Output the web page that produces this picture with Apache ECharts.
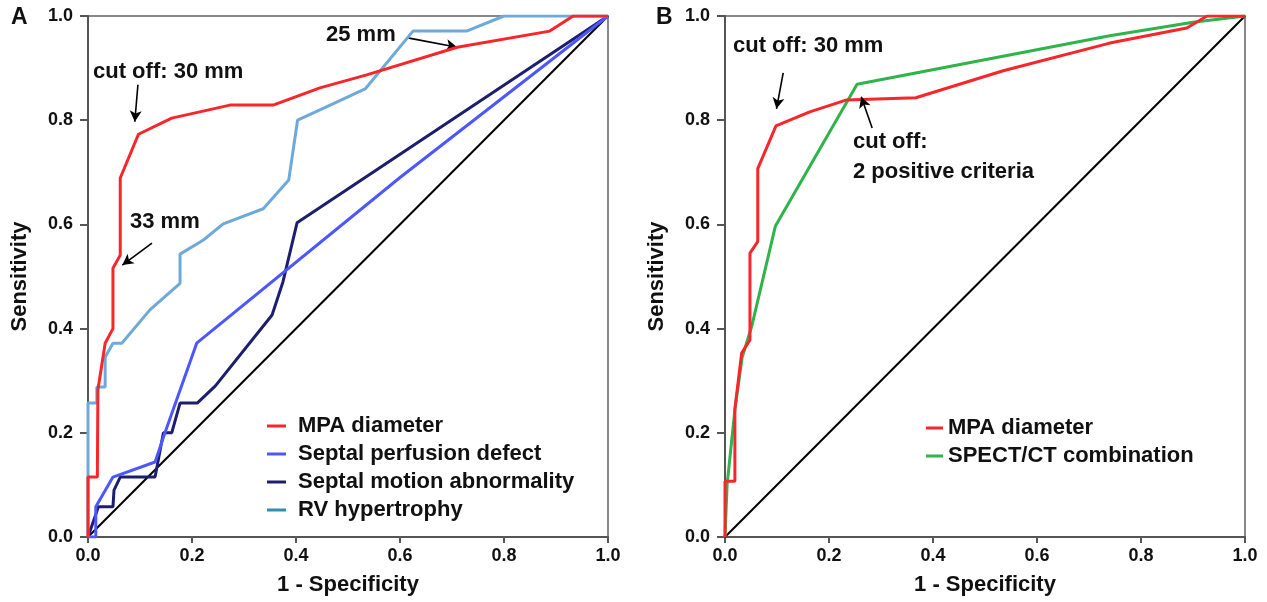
<!DOCTYPE html>
<html>
<head>
<meta charset="utf-8">
<script src="https://cdn.jsdelivr.net/npm/echarts@6/dist/echarts.min.js"></script>
<style>
html,body{margin:0;padding:0;background:#fff;}
#chart{width:1267px;height:602px;}
</style>
</head>
<body>
<div id="chart"></div>
<script>
// ---- Data (x = 1 - Specificity, y = Sensitivity) ----
const tickValues = [0, 0.2, 0.4, 0.6, 0.8, 1.0];
const diagonal = [[0, 0], [1, 1]];

// Panel A
const mpaA = [[0,0],[0,0.115],[0.018,0.115],[0.019,0.282],[0.033,0.372],[0.048,0.40],[0.048,0.516],[0.062,0.541],[0.062,0.689],[0.097,0.773],[0.161,0.804],[0.273,0.829],[0.356,0.829],[0.446,0.862],[0.536,0.887],[0.71,0.94],[0.888,0.971],[0.933,1.0],[1,1]];
const perfusionA = [[0,0],[0.015,0],[0.015,0.058],[0.048,0.115],[0.129,0.144],[0.148,0.2],[0.209,0.372],[0.6,0.69],[1,1]];
const motionA = [[0,0],[0.02,0.058],[0.048,0.058],[0.05,0.09],[0.062,0.115],[0.129,0.115],[0.145,0.2],[0.161,0.2],[0.177,0.257],[0.21,0.257],[0.245,0.29],[0.354,0.426],[0.375,0.49],[0.402,0.603],[1,1]];
const rvA = [[0,0],[0,0.257],[0.017,0.257],[0.017,0.288],[0.033,0.288],[0.033,0.345],[0.048,0.372],[0.065,0.372],[0.119,0.436],[0.177,0.487],[0.177,0.543],[0.222,0.57],[0.26,0.601],[0.337,0.63],[0.386,0.685],[0.403,0.80],[0.446,0.82],[0.533,0.86],[0.625,0.971],[0.728,0.971],[0.80,1.0],[1,1]];

// Panel B
const mpaB = [[0,0],[0,0.107],[0.019,0.107],[0.019,0.246],[0.032,0.353],[0.048,0.378],[0.048,0.545],[0.063,0.567],[0.063,0.707],[0.098,0.789],[0.163,0.816],[0.234,0.839],[0.367,0.843],[0.535,0.895],[0.74,0.948],[0.888,0.977],[0.927,1.0],[1,1]];
const spectB = [[0,0],[0.004,0.10],[0.019,0.244],[0.033,0.345],[0.051,0.403],[0.097,0.597],[0.254,0.869],[0.74,0.962],[0.9,0.988],[1,1]];

// Annotation arrows [from, to] in data coordinates
const arrowsA = [[[0.096,0.868],[0.090,0.797]], [[0.123,0.564],[0.066,0.522]], [[0.615,0.958],[0.71,0.94]]];
const arrowsB = [[[0.112,0.891],[0.099,0.822]], [[0.283,0.785],[0.262,0.845]]];

// Labels
const legendA = ['MPA diameter','Septal perfusion defect','Septal motion abnormality','RV hypertrophy'];
const legendB = ['MPA diameter','SPECT/CT combination'];

// ---- Styling ----
const FONT = '"Liberation Sans", Arial, Helvetica, sans-serif';
const RED = '#f8262b', BLUE = '#4d57ff', NAVY = '#1d1f6e', LIGHTBLUE = '#6ea9da', TEAL = '#2f8fb3', GREEN = '#2fb34a';

function xAxisCfg(gi){
  return {
    gridIndex: gi, type: 'value', min: 0, max: 1, interval: 0.2,
    name: '1 - Specificity', nameLocation: 'middle', nameGap: 37,
    nameTextStyle: {fontFamily: FONT, fontWeight: 'bold', fontSize: 22, color: '#111', verticalAlign: 'top'},
    axisLine: {show: true, lineStyle: {color: '#555', width: 2}},
    axisTick: {show: true, length: 6, lineStyle: {color: '#555', width: 2}},
    axisLabel: {margin: 10, fontFamily: FONT, fontWeight: 'bold', fontSize: 18, color: '#111', formatter: v => v.toFixed(1)},
    splitLine: {show: false}
  };
}
function yAxisCfg(gi){
  return {
    gridIndex: gi, type: 'value', min: 0, max: 1, interval: 0.2,
    name: 'Sensitivity', nameLocation: 'middle', nameGap: 57,
    nameTextStyle: {fontFamily: FONT, fontWeight: 'bold', fontSize: 22, color: '#111'},
    axisLine: {show: true, lineStyle: {color: '#555', width: 2}},
    axisTick: {show: true, length: 8, lineStyle: {color: '#555', width: 2}},
    axisLabel: {margin: 15, fontFamily: FONT, fontWeight: 'bold', fontSize: 18, color: '#111', formatter: v => v.toFixed(1)},
    splitLine: {show: false}
  };
}
function lineSeries(name, data, color, gi, z){
  return {
    name: name, type: 'line', xAxisIndex: gi, yAxisIndex: gi, data: data,
    symbol: 'none', lineStyle: {color: color, width: 3}, itemStyle: {color: color},
    z: z, silent: true
  };
}
function arrowMarks(arrows){
  return {
    silent: true, symbol: ['none', 'arrow'], symbolSize: [9, 11],
    lineStyle: {color: '#000', width: 1.6, type: 'solid'},
    label: {show: false},
    data: arrows.map(a => [{coord: a[0]}, {coord: a[1]}])
  };
}
function txt(text, left, cy){
  return {type: 'text', left: left, top: cy - 12, z: 100,
    style: {text: text, fontFamily: FONT, fontWeight: 'bold', fontSize: 22, fill: '#111'}};
}

const chart = echarts.init(document.getElementById('chart'), null, {renderer: 'canvas'});
const legendText = {fontFamily: FONT, fontWeight: 'bold', fontSize: 22, color: '#111', lineHeight: 22};

const diagA = {type: 'line', xAxisIndex: 0, yAxisIndex: 0, data: diagonal, symbol: 'none',
  lineStyle: {color: '#000', width: 2}, z: 2, silent: true, markLine: arrowMarks(arrowsA)};
const diagB = {type: 'line', xAxisIndex: 1, yAxisIndex: 1, data: diagonal, symbol: 'none',
  lineStyle: {color: '#000', width: 2}, z: 2, silent: true, markLine: arrowMarks(arrowsB)};

chart.setOption({
  animation: false,
  backgroundColor: '#fff',
  grid: [
    {left: 88, top: 16, width: 520, height: 521, show: true, borderColor: '#888', borderWidth: 2},
    {left: 725, top: 16, width: 520, height: 521, show: true, borderColor: '#888', borderWidth: 2}
  ],
  xAxis: [xAxisCfg(0), xAxisCfg(1)],
  yAxis: [yAxisCfg(0), yAxisCfg(1)],
  legend: [
    {left: 262, top: 410, orient: 'vertical', itemWidth: 19, itemHeight: 3, itemGap: 6, icon: 'rect',
     textStyle: Object.assign({padding: [0,0,0,7]}, legendText), selectedMode: false,
     data: [
       {name: legendA[0], itemStyle: {color: RED}},
       {name: legendA[1], itemStyle: {color: BLUE}},
       {name: legendA[2], itemStyle: {color: NAVY}},
       {name: legendA[3], itemStyle: {color: TEAL}}
     ]},
    {left: 921, top: 412, orient: 'vertical', itemWidth: 17, itemHeight: 3, itemGap: 6, icon: 'rect',
     textStyle: legendText, selectedMode: false,
     data: [
       {name: legendB[0] + ' ', itemStyle: {color: RED}},
       {name: legendB[1], itemStyle: {color: GREEN}}
     ]}
  ],
  series: [
    diagA,
    lineSeries(legendA[2], motionA, NAVY, 0, 3),
    lineSeries(legendA[1], perfusionA, BLUE, 0, 4),
    lineSeries(legendA[3], rvA, LIGHTBLUE, 0, 5),
    lineSeries(legendA[0], mpaA, RED, 0, 6),
    diagB,
    lineSeries(legendB[1], spectB, GREEN, 1, 3),
    lineSeries(legendB[0] + ' ', mpaB, RED, 1, 4)
  ],
  graphic: [
    {type: 'text', left: 11, top: 6, style: {text: 'A', fontFamily: FONT, fontWeight: 'bold', fontSize: 23, fill: '#111'}},
    {type: 'text', left: 656, top: 6, style: {text: 'B', fontFamily: FONT, fontWeight: 'bold', fontSize: 23, fill: '#111'}},
    txt('cut off: 30 mm', 93, 73),
    txt('33 mm', 130, 223),
    txt('25 mm', 326, 36),
    txt('cut off: 30 mm', 733, 47),
    txt('cut off:', 853, 143),
    txt('2 positive criteria', 853, 173)
  ]
});
</script>
</body>
</html>
